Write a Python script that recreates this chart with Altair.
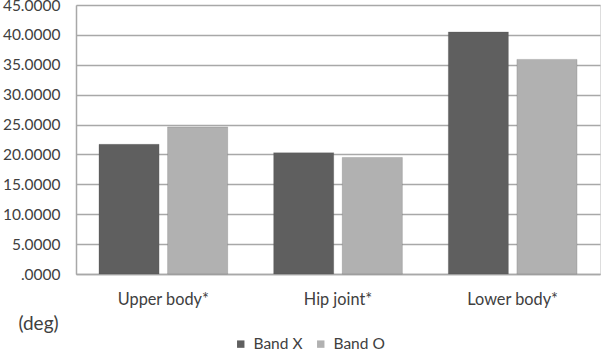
import altair as alt
import pandas as pd

categories = ["Upper body*", "Hip joint*", "Lower body*"]
series = ["Band X", "Band O"]
band_x = [21.7, 20.3, 40.5]
band_o = [24.6, 19.5, 35.9]
colors = ["#5f5f5f", "#b1b1b1"]

rows = []
for c, vx, vo in zip(categories, band_x, band_o):
    rows.append({"part": c, "band": "Band X", "value": vx})
    rows.append({"part": c, "band": "Band O", "value": vo})
df = pd.DataFrame(rows)

FONT = "Lato"
TXT = "#404040"

chart = alt.Chart(df).mark_bar(stroke="#4a4a4a", strokeWidth=0.5, strokeOpacity=0.4).encode(
    x=alt.X("part:N", sort=categories, title=None,
            scale=alt.Scale(paddingInner=0.263, paddingOuter=0.1315),
            axis=alt.Axis(labelAngle=0, ticks=False, labelPadding=17, labelFontSize=16.3,
                          labelFont=FONT, labelColor=TXT, domainColor="#a8a8a8",
                          domainWidth=1.5)),
    xOffset=alt.XOffset("band:N", sort=series,
                        scale=alt.Scale(paddingInner=0.124, paddingOuter=0)),
    y=alt.Y("value:Q", scale=alt.Scale(domain=[0, 45], nice=False),
            axis=alt.Axis(values=list(range(0, 50, 5)),
                          labelExpr="datum.value == 0 ? '.0000' : format(datum.value, '.4f')",
                          title="(deg)", titleAngle=0, titleX=-38, titleY=318,
                          titleAlign="center", titleBaseline="middle",
                          titleFont=FONT, titleFontSize=19, titleFontWeight="normal",
                          titleColor=TXT,
                          labelFont=FONT, labelFontSize=15.5, labelColor=TXT,
                          labelPadding=16, ticks=False,
                          domainColor="#a8a8a8", domainWidth=1.5,
                          gridColor="#a8a8a8", gridWidth=1.5)),
    color=alt.Color("band:N", sort=series,
                    scale=alt.Scale(domain=series, range=colors),
                    legend=alt.Legend(title=None, orient="none", direction="horizontal",
                                      legendX=157, legendY=331,
                                      symbolType="square", symbolSize=55,
                                      symbolStrokeWidth=0,
                                      labelFont=FONT, labelFontSize=15.5, labelColor=TXT,
                                      labelOffset=5, columnPadding=10)),
).properties(
    width=524, height=269,
    padding={"left": 76, "top": 5, "right": 4, "bottom": 77},
    autosize="none",
).configure_view(stroke=None).configure(background="white")

chart.save("out.html", embed_options={"renderer": "svg", "actions": False})
